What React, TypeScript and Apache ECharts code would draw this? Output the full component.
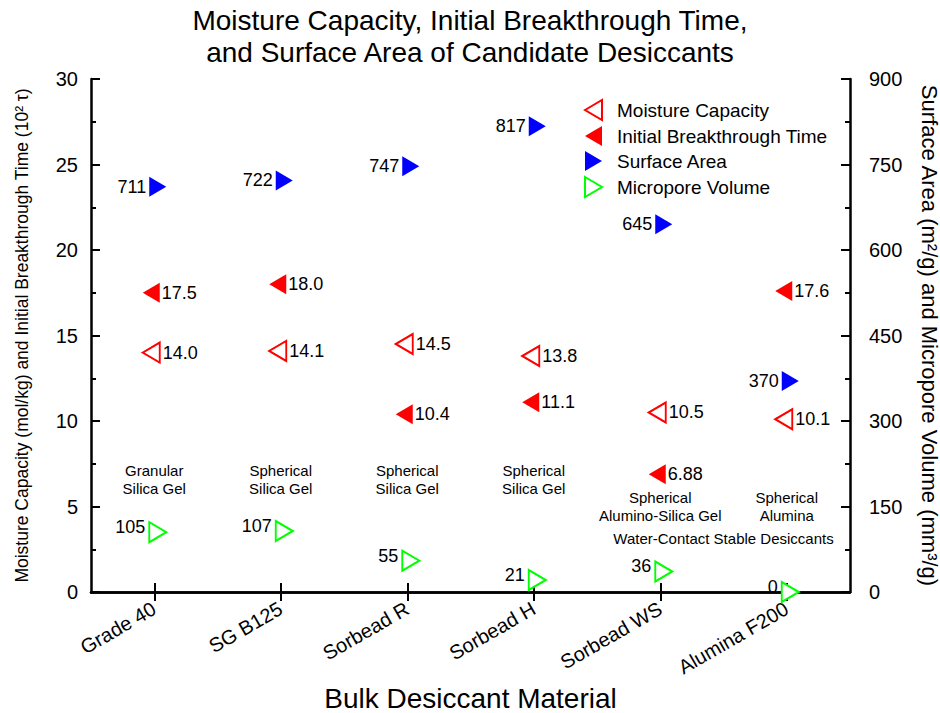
import React, { useEffect, useRef } from 'react';
import * as echarts from 'echarts';

const categories = ['Grade 40', 'SG B125', 'Sorbead R', 'Sorbead H', 'Sorbead WS', 'Alumina F200'];
const moistureCapacity = [14.0, 14.1, 14.5, 13.8, 10.5, 10.1];
const breakthroughTime = [17.5, 18.0, 10.4, 11.1, 6.88, 17.6];
const surfaceArea = [711, 722, 747, 817, 645, 370];
const microporeVolume = [105, 107, 55, 21, 36, 0];
const leftAxisRange = { min: 0, max: 30, interval: 5 };
const rightAxisRange = { min: 0, max: 900, interval: 150 };
const typeLabels = [
  'Granular\nSilica Gel',
  'Spherical\nSilica Gel',
  'Spherical\nSilica Gel',
  'Spherical\nSilica Gel',
  'Spherical\nAlumino-Silica Gel',
  'Spherical\nAlumina',
];
const typeLabelLevels = [6.6, 6.6, 6.6, 6.6, 5.0, 5.0];
const groupNote = 'Water-Contact Stable Desiccants';
const groupNoteLevel = 3.1;
const groupNoteSpan = [4, 5];

const FONT = 'Liberation Sans, Arial, sans-serif';
const leftTri = 'path://M0,10 L17,0 L17,20 Z';
const rightTri = 'path://M0,0 L17,10 L0,20 Z';

const fmtDecimal = (p: any) => {
  const v = p.value[1];
  return Math.abs(v * 10 - Math.round(v * 10)) < 1e-9 ? v.toFixed(1) : String(v);
};
const fmtInt = (p: any) => String(p.value[1]);

export default function App() {
  const ref = useRef<HTMLDivElement>(null);
  useEffect(() => {
    document.body.style.margin = '0';
    document.body.style.overflow = 'hidden';
    const chart = echarts.init(ref.current!, null, { renderer: 'svg' });
    const labelBase = { show: true, fontSize: 18, color: '#000', fontFamily: FONT };
    const axisLineStyle = { color: '#000', width: 2.5 };
    const tickStyle = { width: 2, color: '#000' };
    const option: any = {
      animation: false,
      backgroundColor: '#fff',
      textStyle: { fontFamily: FONT },
      title: {
        text: 'Moisture Capacity, Initial Breakthrough Time,\nand Surface Area of Candidate Desiccants',
        left: 'center',
        top: 4,
        padding: 0,
        textStyle: { fontSize: 28, fontWeight: 'normal', color: '#000', lineHeight: 32, fontFamily: FONT },
      },
      legend: {
        orient: 'vertical',
        left: 584,
        top: 99,
        padding: 0,
        itemWidth: 37,
        itemHeight: 20,
        itemGap: 5,
        symbolKeepAspect: true,
        textStyle: { fontSize: 19, color: '#000', fontFamily: FONT, lineHeight: 20 },
        data: ['Moisture Capacity', 'Initial Breakthrough Time', 'Surface Area', 'Micropore Volume'],
      },
      grid: { left: 91, right: 90, top: 79, bottom: 121, containLabel: false, outerBoundsMode: 'none' },
      xAxis: [
        {
          type: 'category',
          data: categories,
          boundaryGap: true,
          position: 'bottom',
          name: 'Bulk Desiccant Material',
          nameLocation: 'middle',
          nameGap: 92,
          nameTextStyle: { fontSize: 28, color: '#000', fontFamily: FONT },
          axisLine: { show: true, lineStyle: axisLineStyle },
          axisTick: { show: true, inside: true, alignWithLabel: true, length: 9, lineStyle: tickStyle },
          axisLabel: { rotate: 30, fontSize: 20, color: '#000', margin: 15, fontFamily: FONT },
          splitLine: { show: false },
        },
        {
          type: 'category',
          data: categories,
          boundaryGap: true,
          position: 'top',
          axisLine: { show: true, lineStyle: axisLineStyle },
          axisTick: { show: true, inside: true, alignWithLabel: true, length: 9, lineStyle: tickStyle },
          axisLabel: { show: false },
          splitLine: { show: false },
        },
      ],
      yAxis: [
        {
          type: 'value',
          position: 'left',
          ...leftAxisRange,
          name: 'Moisture Capacity (mol/kg) and Initial Breakthrough Time (10² τ)',
          nameLocation: 'middle',
          nameGap: 60,
          nameTextStyle: { fontSize: 17.5, color: '#000', fontFamily: FONT },
          axisLine: { show: true, lineStyle: axisLineStyle },
          axisTick: { show: true, inside: true, length: 9, lineStyle: tickStyle },
          minorTick: { show: true, splitNumber: 2, length: 5, lineStyle: tickStyle },
          axisLabel: { fontSize: 20, color: '#000', margin: 13, fontFamily: FONT },
          splitLine: { show: false },
        },
        {
          type: 'value',
          position: 'right',
          ...rightAxisRange,
          name: 'Surface Area (m²/g) and Micropore Volume (mm³/g)',
          nameLocation: 'middle',
          nameRotate: -90,
          nameGap: 68,
          nameTextStyle: { fontSize: 22, color: '#000', fontFamily: FONT },
          axisLine: { show: true, lineStyle: axisLineStyle },
          axisTick: { show: true, inside: true, length: 9, lineStyle: tickStyle },
          minorTick: { show: true, splitNumber: 2, length: 5, lineStyle: tickStyle },
          axisLabel: { fontSize: 20, color: '#000', margin: 19, fontFamily: FONT },
          splitLine: { show: false },
        },
      ],
      series: [
        {
          name: 'Moisture Capacity',
          type: 'scatter',
          symbol: leftTri,
          symbolSize: [17, 20],
          symbolOffset: [-3, 0],
          itemStyle: { color: '#ffffff', borderColor: '#ff0000', borderWidth: 2, opacity: 1 },
          label: { ...labelBase, position: 'right', distance: 2, formatter: fmtDecimal },
          data: moistureCapacity.map((v, i) => [i, v]),
        },
        {
          name: 'Initial Breakthrough Time',
          type: 'scatter',
          symbol: leftTri,
          symbolSize: [17, 20],
          symbolOffset: [-3, 0],
          itemStyle: { color: '#ff0000', opacity: 1 },
          label: { ...labelBase, position: 'right', distance: 2, formatter: fmtDecimal },
          data: breakthroughTime.map((v, i) => [i, v]),
        },
        {
          name: 'Surface Area',
          type: 'scatter',
          yAxisIndex: 1,
          symbol: rightTri,
          symbolSize: [17, 20],
          symbolOffset: [3.5, 0],
          itemStyle: { color: '#0000ff', opacity: 1 },
          label: { ...labelBase, position: 'left', distance: 3, formatter: fmtInt },
          data: surfaceArea.map((v, i) => [i, v]),
        },
        {
          name: 'Micropore Volume',
          type: 'scatter',
          yAxisIndex: 1,
          symbol: rightTri,
          symbolSize: [17, 20],
          symbolOffset: [3.5, 0],
          itemStyle: { color: '#ffffff', borderColor: '#00ff00', borderWidth: 2, opacity: 1 },
          label: { ...labelBase, position: 'left', distance: 3, offset: [0, -5], formatter: fmtInt },
          data: microporeVolume.map((v, i) => [i, v]),
        },
      ],
    };
    chart.setOption(option);

    const textStyle = { fontSize: 15, fontFamily: FONT, fill: '#000', align: 'center', verticalAlign: 'middle', lineHeight: 18 };
    const graphics: any[] = typeLabels.map((t, i) => {
      const [x, y] = chart.convertToPixel({ xAxisIndex: 0, yAxisIndex: 0 }, [i, typeLabelLevels[i]]) as number[];
      return { type: 'text', x, y, silent: true, style: { ...textStyle, text: t } };
    });
    const [xa, yn] = chart.convertToPixel({ xAxisIndex: 0, yAxisIndex: 0 }, [groupNoteSpan[0], groupNoteLevel]) as number[];
    const [xb] = chart.convertToPixel({ xAxisIndex: 0, yAxisIndex: 0 }, [groupNoteSpan[1], groupNoteLevel]) as number[];
    graphics.push({ type: 'text', x: (xa + xb) / 2, y: yn, silent: true, style: { ...textStyle, text: groupNote } });
    chart.setOption({ graphic: graphics });

    return () => chart.dispose();
  }, []);
  return <div ref={ref} style={{ width: 940, height: 713, overflow: 'hidden' }} />;
}
